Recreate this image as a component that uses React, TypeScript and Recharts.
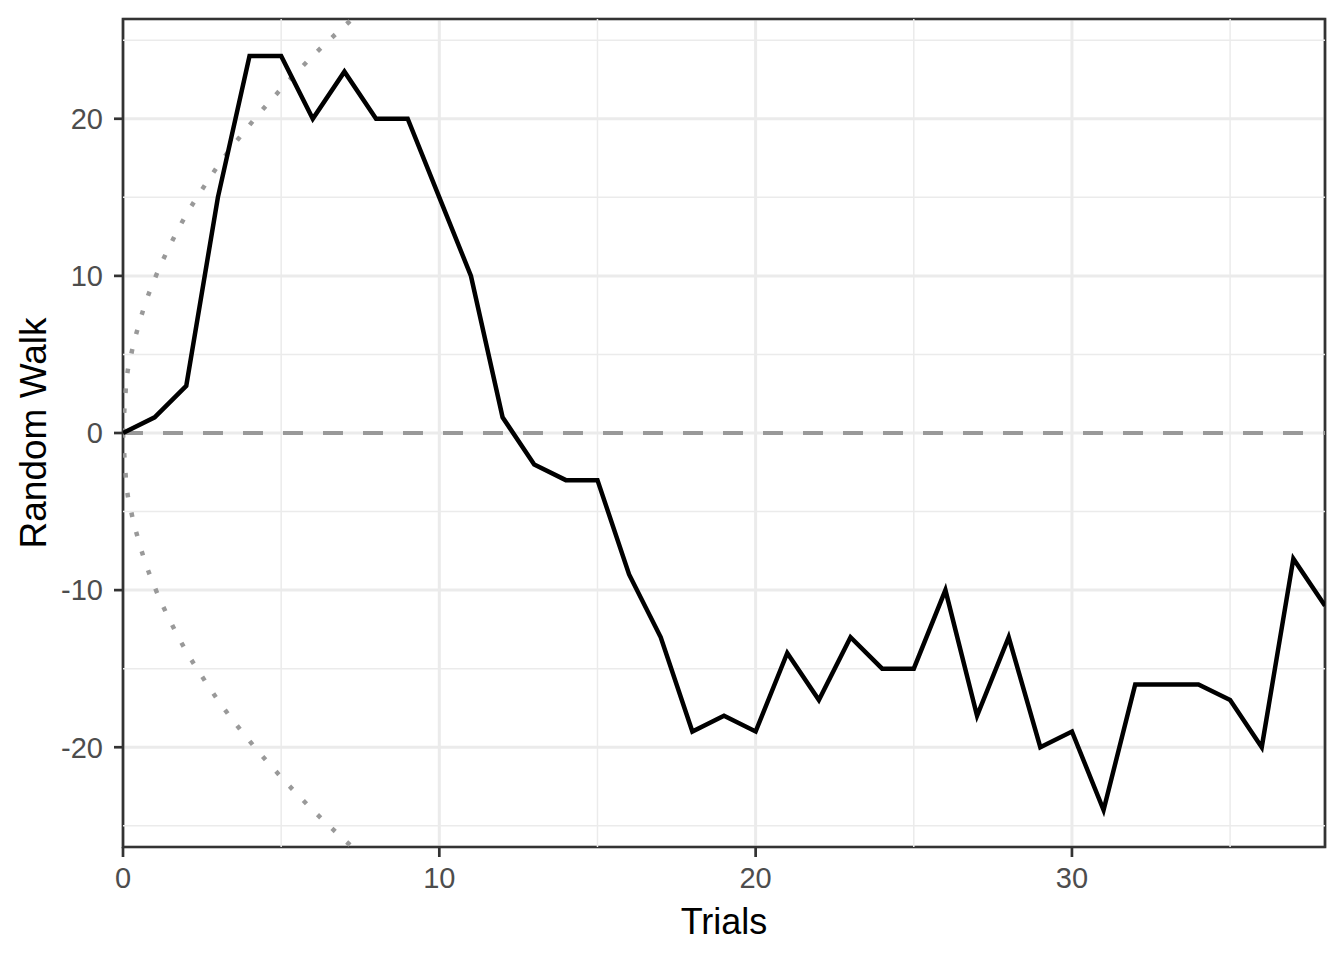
import React from 'react';
import { LineChart, Line, XAxis, YAxis, CartesianGrid, ReferenceLine, ReferenceArea, Label } from 'recharts';

// random walk, one value per trial
const trials = [0, 1, 2, 3, 4, 5, 6, 7, 8, 9, 10, 11, 12, 13, 14, 15, 16, 17, 18, 19, 20, 21, 22, 23, 24, 25, 26, 27, 28, 29, 30, 31, 32, 33, 34, 35, 36, 37, 38];
const walk = [0, 1, 3, 15, 24, 24, 20, 23, 20, 20, 15, 10, 1, -2, -3, -3, -9, -13, -19, -18, -19, -14, -17, -13, -15, -15, -10, -18, -13, -20, -19, -24, -16, -16, -16, -17, -20, -8, -11];

// dotted envelope, mirrored below zero
const envX = [0, 0.1, 0.25, 0.5, 0.75, 1, 1.5, 2, 2.5, 3, 4, 5, 6, 7, 8];
const envUpper = [0, 3.1, 4.9, 6.9, 8.5, 9.8, 12.0, 13.9, 15.5, 17.0, 19.6, 21.9, 24.0, 25.9, 27.7];
const envLower = [0, -3.1, -4.9, -6.9, -8.5, -9.8, -12.0, -13.9, -15.5, -17.0, -19.6, -21.9, -24.0, -25.9, -27.7];

const xTicks = [0, 10, 20, 30];
const yTicks = [-20, -10, 0, 10, 20];
const xMinor = [5, 15, 25, 35];
const yMinor = [-25, -15, -5, 5, 15, 25];

const X_MAX = 38;
const Y_LIM = 26.35;

const walkData = trials.map((t, i) => ({ x: t, y: walk[i] }));
const upperData = envX.map((t, i) => ({ x: t, y: envUpper[i] }));
const lowerData = envX.map((t, i) => ({ x: t, y: envLower[i] }));

const FONT = '"Liberation Sans", Arial, sans-serif';
const GRID = '#EBEBEB';
const INK = '#333333';

const YTitle = ({ viewBox }: any) => {
    const x = viewBox.x + 46;
    const y = viewBox.y + viewBox.height / 2;
    return (
        <text x={x} y={y} transform={`rotate(-90 ${x} ${y})`} textAnchor="middle" fontSize={37} fill="#000" fontFamily={FONT}>
            Random Walk
        </text>
    );
};

export default function App() {
    return (
        <div style={{ position: 'absolute', left: 0, top: 0, width: 1344, height: 960, background: '#fff' }}>
            <LineChart width={1344} height={960} margin={{ top: 19, right: 19, bottom: 0, left: 0 }}>
                <CartesianGrid stroke={GRID} strokeWidth={3} />
                {xMinor.map(v => (
                    <ReferenceLine key={`vx-${v}`} x={v} stroke={GRID} strokeWidth={1.5} />
                ))}
                {yMinor.map(v => (
                    <ReferenceLine key={`hy-${v}`} y={v} stroke={GRID} strokeWidth={1.5} />
                ))}
                <XAxis
                    type="number"
                    dataKey="x"
                    domain={[0, X_MAX]}
                    ticks={xTicks}
                    allowDataOverflow
                    height={113}
                    axisLine={false}
                    tickSize={10}
                    tickMargin={10}
                    tickLine={{ stroke: INK, strokeWidth: 2.7 }}
                    tick={{ fill: '#4D4D4D', fontSize: 29, fontFamily: FONT }}
                >
                    <Label value="Trials" position="insideBottom" offset={26} fontSize={36} fill="#000" fontFamily={FONT} />
                </XAxis>
                <YAxis
                    type="number"
                    dataKey="y"
                    domain={[-Y_LIM, Y_LIM]}
                    ticks={yTicks}
                    allowDataOverflow
                    width={123}
                    axisLine={false}
                    tickSize={9}
                    tickMargin={11}
                    tickLine={{ stroke: INK, strokeWidth: 2.7 }}
                    tick={{ fill: '#4D4D4D', fontSize: 29, fontFamily: FONT }}
                    label={<YTitle />}
                />
                <ReferenceLine y={0} stroke="#999999" strokeWidth={4} strokeDasharray="20 20" />
                <Line data={upperData} dataKey="y" type="monotone" stroke="#999999" strokeWidth={4.5} strokeDasharray="4.5 15.5" dot={false} isAnimationActive={false} />
                <Line data={lowerData} dataKey="y" type="monotone" stroke="#999999" strokeWidth={4.5} strokeDasharray="4.5 15.5" dot={false} isAnimationActive={false} />
                <Line data={walkData} dataKey="y" type="linear" stroke="#000000" strokeWidth={4.5} dot={false} isAnimationActive={false} />
                <ReferenceArea x1={0} x2={X_MAX} y1={-Y_LIM} y2={Y_LIM} fill="none" stroke={INK} strokeWidth={2.7} ifOverflow="visible" />
            </LineChart>
        </div>
    );
}
